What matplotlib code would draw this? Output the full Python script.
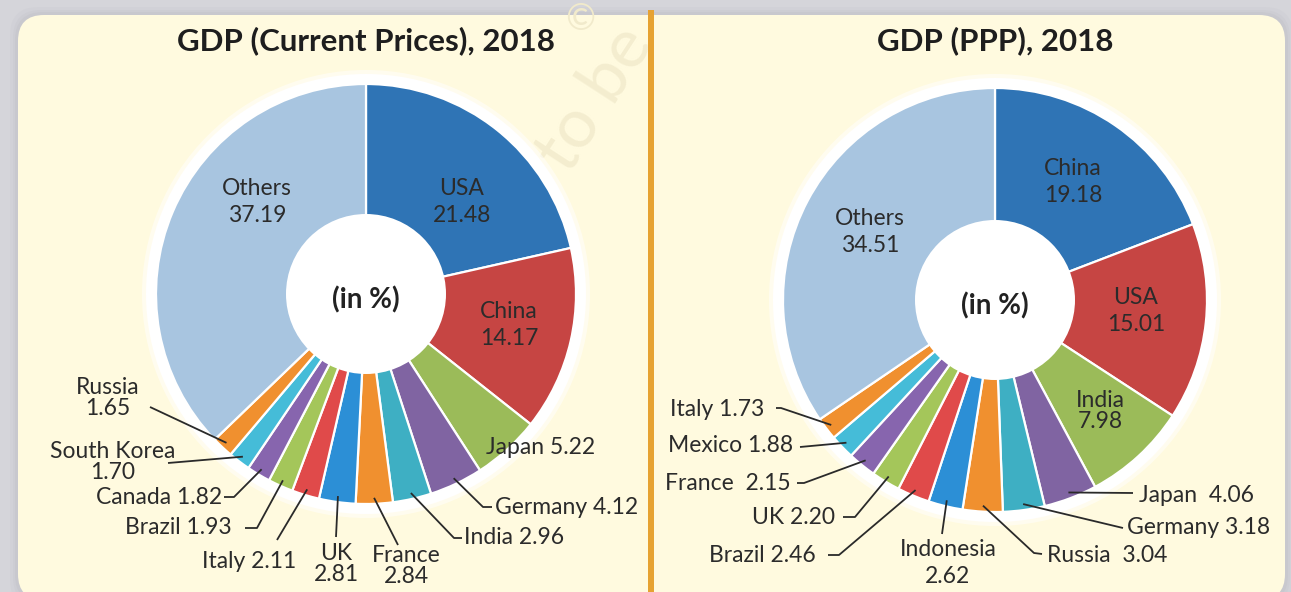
import numpy as np
import matplotlib
matplotlib.use('Agg')
import matplotlib.pyplot as plt
from matplotlib.patches import FancyBboxPatch, Circle, Rectangle

plt.rcParams['font.family'] = ['Lato', 'DejaVu Sans']

W, H = 1291, 592

# ---- data ----
gdp_names = ['USA', 'China', 'Japan', 'Germany', 'India', 'France', 'UK', 'Italy',
             'Brazil', 'Canada', 'South Korea', 'Russia', 'Others']
gdp_values = [21.48, 14.17, 5.22, 4.12, 2.96, 2.84, 2.81, 2.11, 1.93, 1.82, 1.70, 1.65, 37.19]
gdp_sep = ['\n', '\n', ' ', ' ', ' ', '\n', '\n', ' ', ' ', ' ', '\n', '\n', '\n']

ppp_names = ['China', 'USA', 'India', 'Japan', 'Germany', 'Russia', 'Indonesia', 'Brazil',
             'UK', 'France', 'Mexico', 'Italy', 'Others']
ppp_values = [19.18, 15.01, 7.98, 4.06, 3.18, 3.04, 2.62, 2.46, 2.20, 2.15, 1.88, 1.73, 34.51]
ppp_sep = ['\n', '\n', '\n', '  ', ' ', '  ', '\n', ' ', ' ', '  ', ' ', ' ', '\n']

slice_colors = ['#2F74B5', '#C64543', '#9BBB59', '#8064A2', '#3EAFC3', '#F0902F',
                '#2C8FD6', '#E04A4A', '#A4C65A', '#8765AE', '#45BCD8', '#F0902F', '#A8C5E0']

# label layout (image pixel coords): text x, text y, ha, line spacing, leader points (None = inside slice)
gdp_layout = [
    (462, 202, 'center', 1.3, None),
    (509, 325, 'center', 1.3, None),
    (541, 448, 'center', 1.0, None),
    (495, 507, 'left', 1.0, [(483, 507), (492, 507)]),
    (464, 538, 'left', 1.0, [(454, 538), (462, 538)]),
    (406, 566, 'center', 1.05, [(398, 545)]),
    (336, 564, 'center', 1.05, [(336, 537)]),
    (249, 562, 'center', 1.0, [(277, 540)]),
    (232, 528, 'right', 1.0, [(257, 528), (245, 528)]),
    (222, 497, 'right', 1.0, [(234, 497), (224, 497)]),
    (113, 462, 'center', 1.02, [(168, 463)]),
    (108, 398, 'center', 1.02, [(150, 407)]),
    (257, 202, 'center', 1.3, None),
]
ppp_layout = [
    (1073, 182, 'center', 1.3, None),
    (1136, 311, 'center', 1.3, None),
    (1100, 411, 'center', 1.0, None),
    (1139, 495, 'left', 1.0, [(1133, 493)]),
    (1127, 528, 'left', 1.0, [(1123, 528)]),
    (1047, 555, 'left', 1.0, [(1034, 553), (1042, 554)]),
    (948, 563, 'center', 1.3, [(942, 534)]),
    (816, 555, 'right', 1.0, [(839, 555), (828, 555)]),
    (835, 517, 'right', 1.0, [(855, 517), (843, 517)]),
    (791, 483, 'right', 1.0, [(804, 483), (797, 483)]),
    (793, 446, 'right', 1.0, [(800, 447)]),
    (764, 410, 'right', 1.0, [(781, 408), (776, 408)]),
    (870, 232, 'center', 1.3, None),
]

fig = plt.figure(figsize=(W / 100, H / 100), dpi=100)
fig.patch.set_facecolor('#D5D5DA')
ax = fig.add_axes([0, 0, 1, 1])


def Y(y):
    return H - y


# panel with soft shadow
for k, a in [(8, 0.05), (5, 0.07), (3, 0.09)]:
    ax.add_patch(FancyBboxPatch((18 - k, Y(600) - k), 1267 + 2 * k, 585 + 2 * k,
                                boxstyle='round,pad=0,rounding_size=28',
                                fc='#9A9AA2', ec='none', alpha=a, zorder=0))
ax.add_patch(FancyBboxPatch((18, Y(600)), 1267, 585, boxstyle='round,pad=0,rounding_size=26',
                            fc='#FFFADF', ec='none', zorder=1))
ax.add_patch(Rectangle((648, 0), 6, H - 10, fc='#E6A232', ec='none', zorder=2))

# faint watermark
ax.text(562, Y(150), 'not to be', rotation=57, fontsize=50, color='#F4EDCF',
        ha='center', va='center', zorder=1.5)
ax.text(580, Y(20), '\u00a9', fontsize=26, color='#F1EACB', ha='center', va='center', zorder=1.5)


def donut(names, values, seps, layout, cx, cy, r, title):
    c = (cx, Y(cy))
    ax.add_patch(Circle(c, r + 14, fc='white', ec='none', alpha=0.5, zorder=2))
    ax.add_patch(Circle(c, r + 10, fc='white', ec='none', zorder=2))
    wedges, _ = ax.pie(values, colors=slice_colors, startangle=90, counterclock=False,
                       center=c, radius=r, frame=True,
                       wedgeprops=dict(width=r - 78, edgecolor='white', linewidth=1.6))
    for w in wedges:
        w.set_zorder(3)
    ax.add_patch(Circle(c, 80, fc='white', ec='none', zorder=3.5))
    ax.text(cx, Y(cy + 6), '(in %)', fontsize=20, fontweight='bold', color='#222222',
            ha='center', va='center', zorder=5)
    ax.text(cx, Y(41), title, fontsize=22.5, fontweight='bold', color='#1E1E1E',
            ha='center', va='center', zorder=5)
    for w, name, v, sep, (tx, ty, ha, ls, pts) in zip(wedges, names, values, seps, layout):
        label = name + sep + f'{v:.2f}'
        ax.text(tx, Y(ty), label, fontsize=16.5, color='#2B2B2B', ha=ha, va='center',
                multialignment='center', linespacing=ls, zorder=5)
        if pts:
            mid = np.deg2rad((w.theta1 + w.theta2) / 2)
            sx = w.center[0] + (r - 6) * np.cos(mid)
            sy = w.center[1] + (r - 6) * np.sin(mid)
            xs = [sx] + [p[0] for p in pts]
            ys = [sy] + [Y(p[1]) for p in pts]
            ax.plot(xs, ys, color='#2A2A2A', lw=1.3, zorder=4, solid_capstyle='butt')


donut(gdp_names, gdp_values, gdp_sep, gdp_layout, 366, 294, 210, 'GDP (Current Prices), 2018')
donut(ppp_names, ppp_values, ppp_sep, ppp_layout, 995, 300, 212, 'GDP (PPP), 2018')

ax.set_xlim(0, W)
ax.set_ylim(0, H)
ax.set_aspect('auto')
ax.set_axis_off()

fig.savefig('out.png', dpi=100, facecolor=fig.get_facecolor())
